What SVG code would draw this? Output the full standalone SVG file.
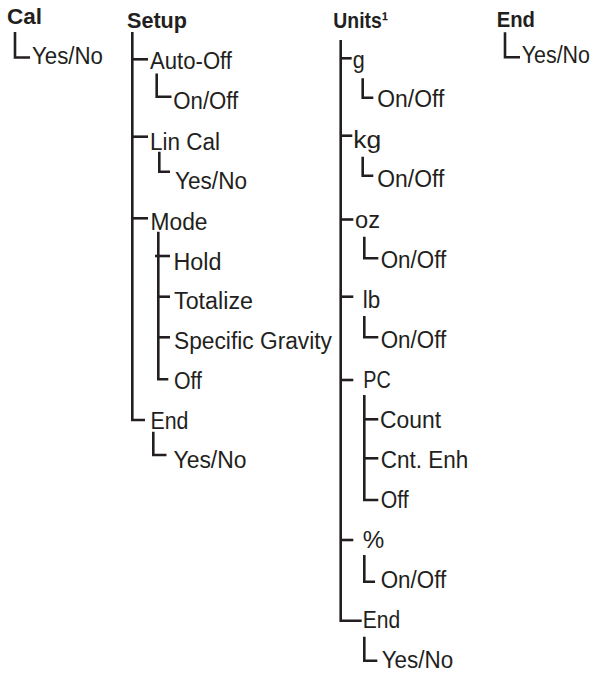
<svg xmlns="http://www.w3.org/2000/svg" width="596" height="675" viewBox="0 0 596 675">
<style>
.t{font-family:"Liberation Sans",Arial,sans-serif;font-size:23.5px;fill:#231f20}
.h{font-family:"Liberation Sans",Arial,sans-serif;font-size:22.5px;font-weight:bold;fill:#231f20}
.c{fill:none;stroke:#231f20;stroke-width:2.6;stroke-linecap:butt;stroke-linejoin:miter}
</style>
<rect width="596" height="675" fill="#ffffff"/>
<g id="connectors" class="c">
<path d="M15,32 V57.5 H30"/>
<path d="M132.3,32 V420 H145"/>
<path d="M132.3,59.3 H148"/>
<path d="M156.7,73.5 V96.7 H171.5"/>
<path d="M132.3,136.7 H148"/>
<path d="M159.3,151.7 V171.7 H170"/>
<path d="M132.3,218.3 H148"/>
<path d="M158.3,231.7 V379.3 H168.3"/>
<path d="M155,256 H170"/>
<path d="M158.3,296.7 H170"/>
<path d="M158.3,337.3 H170"/>
<path d="M153.3,431.7 V455 H166.5"/>
<path d="M340.7,40 V620.7 H361.7"/>
<path d="M340.7,58.3 H351.7"/>
<path d="M362.7,78.3 V97.7 H373.3"/>
<path d="M340.7,135.7 H352.3"/>
<path d="M362.7,156.7 V175.7 H373.3"/>
<path d="M340.7,219.5 H353.3"/>
<path d="M364.3,236.7 V258.3 H378.3"/>
<path d="M340.7,296.7 H353.3"/>
<path d="M364.3,316 V337.3 H378.3"/>
<path d="M340.7,380 H353.3"/>
<path d="M364.3,395 V500 H378.3"/>
<path d="M364.3,419.3 H378.3"/>
<path d="M364.3,458.3 H378.3"/>
<path d="M340.7,540 H353.3"/>
<path d="M364.3,555 V581.7 H375"/>
<path d="M364.3,636.7 V660.7 H377.3"/>
<path d="M505,32.3 V57.3 H520"/>
</g>
<g id="cal"><text class="h" x="7" y="24" textLength="35" lengthAdjust="spacingAndGlyphs">Cal</text></g>
<g id="cal-yesno"><text class="t" x="32" y="64" textLength="71" lengthAdjust="spacingAndGlyphs">Yes/No</text></g>
<g id="setup"><text class="h" x="127" y="28" textLength="60" lengthAdjust="spacingAndGlyphs">Setup</text></g>
<g id="auto-off"><text class="t" x="150" y="69" textLength="82" lengthAdjust="spacingAndGlyphs">Auto-Off</text></g>
<g id="auto-off-onoff"><text class="t" x="173.3" y="109" textLength="65" lengthAdjust="spacingAndGlyphs">On/Off</text></g>
<g id="lincal"><text class="t" x="150" y="150" textLength="70" lengthAdjust="spacingAndGlyphs">Lin Cal</text></g>
<g id="lincal-yesno"><text class="t" x="175" y="189" textLength="72" lengthAdjust="spacingAndGlyphs">Yes/No</text></g>
<g id="mode"><text class="t" x="150.5" y="229.5" textLength="57" lengthAdjust="spacingAndGlyphs">Mode</text></g>
<g id="hold"><text class="t" x="173.5" y="270" textLength="48" lengthAdjust="spacingAndGlyphs">Hold</text></g>
<g id="totalize"><text class="t" x="174" y="309.3" textLength="79" lengthAdjust="spacingAndGlyphs">Totalize</text></g>
<g id="specific-gravity"><text class="t" x="174" y="349.3" textLength="158" lengthAdjust="spacingAndGlyphs">Specific Gravity</text></g>
<g id="mode-off"><text class="t" x="174" y="389.3" textLength="28" lengthAdjust="spacingAndGlyphs">Off</text></g>
<g id="setup-end"><text class="t" x="150.5" y="429.3" textLength="38" lengthAdjust="spacingAndGlyphs">End</text></g>
<g id="setup-end-yesno"><text class="t" x="173.5" y="468" textLength="73" lengthAdjust="spacingAndGlyphs">Yes/No</text></g>
<g id="units"><text class="h" x="333.3" y="28.3" textLength="55" lengthAdjust="spacingAndGlyphs">Units¹</text></g>
<g id="g"><text class="t" x="352.7" y="68.3" textLength="12" lengthAdjust="spacingAndGlyphs">g</text></g>
<g id="g-onoff"><text class="t" x="377.3" y="106.7" textLength="67" lengthAdjust="spacingAndGlyphs">On/Off</text></g>
<g id="kg"><text class="t" x="353.3" y="148.3" textLength="28" lengthAdjust="spacingAndGlyphs">kg</text></g>
<g id="kg-onoff"><text class="t" x="377.3" y="186.7" textLength="67" lengthAdjust="spacingAndGlyphs">On/Off</text></g>
<g id="oz"><text class="t" x="355" y="228.3" textLength="25" lengthAdjust="spacingAndGlyphs">oz</text></g>
<g id="oz-onoff"><text class="t" x="380.7" y="268.3" textLength="65.5" lengthAdjust="spacingAndGlyphs">On/Off</text></g>
<g id="lb"><text class="t" x="362.7" y="308.3" textLength="17.5" lengthAdjust="spacingAndGlyphs">lb</text></g>
<g id="lb-onoff"><text class="t" x="380.7" y="348.3" textLength="65.5" lengthAdjust="spacingAndGlyphs">On/Off</text></g>
<g id="pc"><text class="t" x="363.3" y="388.3" textLength="27.5" lengthAdjust="spacingAndGlyphs">PC</text></g>
<g id="count"><text class="t" x="380" y="428.3" textLength="61" lengthAdjust="spacingAndGlyphs">Count</text></g>
<g id="cnt-enh"><text class="t" x="380.7" y="468.3" textLength="87.5" lengthAdjust="spacingAndGlyphs">Cnt. Enh</text></g>
<g id="pc-off"><text class="t" x="380.7" y="508.3" textLength="28" lengthAdjust="spacingAndGlyphs">Off</text></g>
<g id="percent"><text class="t" x="362.7" y="548.3" textLength="21.5" lengthAdjust="spacingAndGlyphs">%</text></g>
<g id="percent-onoff"><text class="t" x="380.7" y="588.3" textLength="65.5" lengthAdjust="spacingAndGlyphs">On/Off</text></g>
<g id="units-end"><text class="t" x="362.7" y="628.3" textLength="37.5" lengthAdjust="spacingAndGlyphs">End</text></g>
<g id="units-end-yesno"><text class="t" x="381.7" y="668.3" textLength="71.5" lengthAdjust="spacingAndGlyphs">Yes/No</text></g>
<g id="end"><text class="h" x="496.7" y="27.3" textLength="38.3" lengthAdjust="spacingAndGlyphs">End</text></g>
<g id="end-yesno"><text class="t" x="521.7" y="63.3" textLength="68.3" lengthAdjust="spacingAndGlyphs">Yes/No</text></g>
</svg>
